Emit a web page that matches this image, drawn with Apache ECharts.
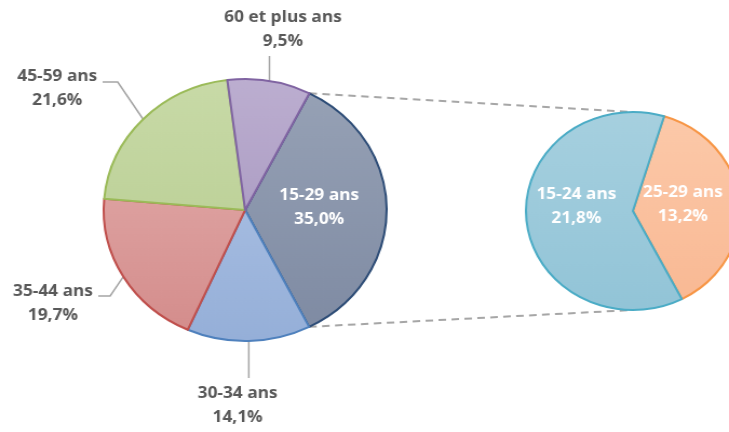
<!DOCTYPE html>
<html>
<head>
<meta charset="utf-8">
<script src="https://cdn.jsdelivr.net/npm/echarts@6/dist/echarts.min.js"></script>
<style>
  html, body { margin: 0; padding: 0; background: #fff; overflow: hidden; }
  #wrap { width: 729px; height: 432px; overflow: hidden; }
  /* chart is laid out slightly narrower and widened horizontally */
  #chart { width: 675px; height: 432px; transform: scaleX(1.08); transform-origin: 0 0; }
</style>
</head>
<body>
<div id="wrap"><div id="chart"></div></div>
<script>
// Répartition par tranche d'âge (%)
const mainCategories = ['15-29 ans', '30-34 ans', '35-44 ans', '45-59 ans', '60 et plus ans'];
const mainValues = [35.0, 14.1, 19.7, 21.6, 9.5];

// Détail de la tranche 15-29 ans
const subCategories = ['25-29 ans', '15-24 ans'];
const subValues = [13.2, 21.8];

const FONT = '"Open Sans", "Noto Sans", sans-serif';
const LABEL_GREY = '#595959';

// layout of the two pies (canvas pixels)
const MAIN = { cx: 227, cy: 210, r: 131, start: 63 };
const SUB = { cx: 586, cy: 211, r: 99, start: 73 };

function fmt(v) { return v.toFixed(1).replace('.', ',') + '%'; }

function grad(top, bottom) {
  return new echarts.graphic.LinearGradient(0, 0, 0, 1, [
    { offset: 0, color: top }, { offset: 1, color: bottom }
  ]);
}

const mainStyles = [
  { c: grad('#96a1b5', '#7f8ba3'), b: '#2e4d77' },
  { c: grad('#a4bbe0', '#95afd8'), b: '#4f81bd' },
  { c: grad('#dda09f', '#d48d8c'), b: '#c0504d' },
  { c: grad('#c8daa7', '#bed29a'), b: '#9bbb59' },
  { c: grad('#bcaed0', '#ae9fc5'), b: '#8064a2' }
];
const subStyles = [
  { c: grad('#fcc9a9', '#f9b994'), b: '#f79646' },
  { c: grad('#a6d0df', '#92c4d7'), b: '#4bacc6' }
];

// angular position of each main slice (degrees, counter-clockwise from 3 o'clock)
const total = mainValues.reduce((a, b) => a + b, 0);
const sliceAngles = [];
let acc = MAIN.start;
mainValues.forEach(v => {
  const span = v / total * 360;
  sliceAngles.push({ from: acc, to: acc - span, mid: acc - span / 2 });
  acc -= span;
});
function arcPoint(p, deg) {
  const a = deg * Math.PI / 180;
  return [p.cx + p.r * Math.cos(a), p.cy - p.r * Math.sin(a)];
}

// label placement for the outside labels of the main pie
const outsideLabels = {
  1: { x: 220, y: 405, bend: m => [m[0], 378], end: m => [m[0], 378] },
  2: { x: 49, y: 303, bend: () => [102, 296], end: () => [91, 296] },
  3: { x: 53, y: 88, bend: () => [109, 82], end: () => [95, 82] },
  4: { x: 262, y: 29, bend: m => [m[0], 56], end: m => [m[0], 56] }
};

const mainData = mainCategories.map((name, i) => {
  const item = {
    name, value: mainValues[i],
    itemStyle: { color: mainStyles[i].c, borderColor: mainStyles[i].b, borderWidth: 2 }
  };
  if (i === 0) {
    item.label = { position: 'inside', color: '#ffffff' };
    item.labelLine = { show: false };
  }
  return item;
});

const subData = subCategories.map((name, i) => ({
  name, value: subValues[i],
  itemStyle: { color: subStyles[i].c, borderColor: subStyles[i].b, borderWidth: 2 }
}));

// dashed connectors from the split slice to the detail pie
const topStart = arcPoint(MAIN, sliceAngles[0].from);
const botStart = arcPoint(MAIN, sliceAngles[0].to);
const connectorStyle = { stroke: '#a6a6a6', lineWidth: 2, lineDash: [7, 5] };

const chart = echarts.init(document.getElementById('chart'), null, { renderer: 'canvas' });
chart.setOption({
  backgroundColor: '#ffffff',
  animation: false,
  graphic: [
    { type: 'line', z: 0, shape: { x1: topStart[0], y1: topStart[1], x2: SUB.cx, y2: SUB.cy - SUB.r }, style: connectorStyle },
    { type: 'line', z: 0, shape: { x1: botStart[0], y1: botStart[1], x2: SUB.cx, y2: SUB.cy + SUB.r }, style: connectorStyle }
  ],
  series: [
    {
      type: 'pie',
      z: 2,
      center: [MAIN.cx, MAIN.cy],
      radius: MAIN.r,
      startAngle: MAIN.start,
      clockwise: true,
      avoidLabelOverlap: false,
      label: {
        show: true,
        position: 'outside',
        formatter: p => p.name + '\n' + fmt(p.value),
        fontFamily: FONT,
        fontWeight: 'bold',
        fontSize: 16,
        lineHeight: 24,
        color: LABEL_GREY,
        align: 'center'
      },
      labelLine: { show: true, lineStyle: { color: '#a5a5a5', width: 1.5 } },
      labelLayout: function (params) {
        const cfg = outsideLabels[params.dataIndex];
        if (!cfg) return { dy: -3 };
        const m = arcPoint(MAIN, sliceAngles[params.dataIndex].mid);
        return {
          x: cfg.x, y: cfg.y, align: 'center', verticalAlign: 'middle',
          labelLinePoints: [m, cfg.bend(m), cfg.end(m)]
        };
      },
      emphasis: { disabled: true },
      data: mainData
    },
    {
      type: 'pie',
      z: 2,
      center: [SUB.cx, SUB.cy],
      radius: SUB.r,
      startAngle: SUB.start,
      clockwise: true,
      label: {
        show: true,
        position: 'inside',
        formatter: p => p.name + '\n' + fmt(p.value),
        fontFamily: FONT,
        fontWeight: 'bold',
        fontSize: 16,
        lineHeight: 24,
        color: '#ffffff',
        align: 'center'
      },
      labelLine: { show: false },
      labelLayout: function (params) {
        return params.dataIndex === 1 ? { dy: -9 } : { dy: -2, dx: -6 };
      },
      emphasis: { disabled: true },
      data: subData
    }
  ]
});
</script>
</body>
</html>
